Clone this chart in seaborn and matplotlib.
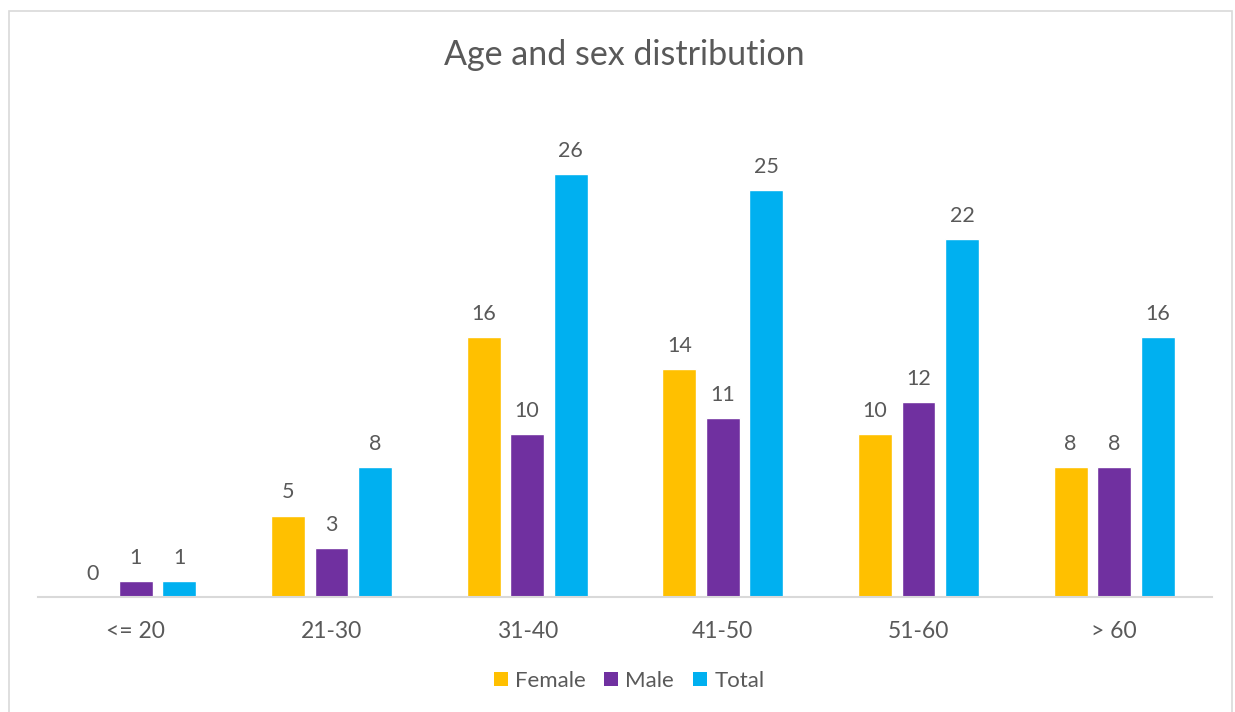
import matplotlib
matplotlib.use("Agg")
import matplotlib.pyplot as plt
import seaborn as sns
import pandas as pd
from matplotlib.patches import Rectangle, Patch

age_groups = ["<= 20", "21-30", "31-40", "41-50", "51-60", "> 60"]
female = [0, 5, 16, 14, 10, 8]
male = [1, 3, 10, 11, 12, 8]
total = [1, 8, 26, 25, 22, 16]
series_names = ["Female", "Male", "Total"]
colors = ["#FFC000", "#7030A0", "#00B0F0"]

df = pd.DataFrame({
    "age": age_groups * 3,
    "series": sum([[s] * len(age_groups) for s in series_names], []),
    "count": female + male + total,
})

sns.set_theme(style="white")
plt.rcParams["font.family"] = ["Lato", "DejaVu Sans"]
text_color = "#595959"

W, H = 1235, 712
fig = plt.figure(figsize=(W / 100, H / 100), dpi=100)
ax = fig.add_axes([38 / W, 1 - 597 / H, (1212 - 38) / W, (597 - 109) / H])

sns.barplot(data=df, x="age", y="count", hue="series", order=age_groups,
            hue_order=series_names, palette=colors, width=0.667, gap=0.22,
            saturation=1, legend=False, ax=ax)

for container in ax.containers:
    ax.bar_label(container, fmt="%d", padding=9.5, fontsize=15.5, color=text_color)

ax.set_xlim(-0.5, len(age_groups) - 0.5)
ax.set_ylim(0, 30)
ax.set_xlabel("")
ax.set_ylabel("")
ax.set_yticks([])
for side in ["top", "right", "left"]:
    ax.spines[side].set_visible(False)
ax.spines["bottom"].set_color("#D9D9D9")
ax.spines["bottom"].set_linewidth(1.5)
ax.tick_params(axis="x", length=0, pad=17, labelsize=16.5, labelcolor=text_color)

fig.text(624 / W, 1 - 55 / H, "Age and sex distribution", ha="center", va="center",
         fontsize=24.5, color=text_color)

handles = [Patch(facecolor=c, edgecolor="none") for c in colors]
fig.legend(handles, series_names, loc="center", bbox_to_anchor=(629 / W, 1 - 681 / H),
           ncol=3, frameon=False, fontsize=16, labelcolor=text_color,
           handlelength=0.63, handleheight=0.63, handletextpad=0.32, columnspacing=0.85)

fig.patches.append(Rectangle((9 / W, -0.01), (1232 - 9) / W, 1 - 11 / H + 0.01,
                             transform=fig.transFigure, fill=False,
                             edgecolor="#D9D9D9", linewidth=1.2))

fig.savefig("out.png", dpi=100, facecolor="white")
